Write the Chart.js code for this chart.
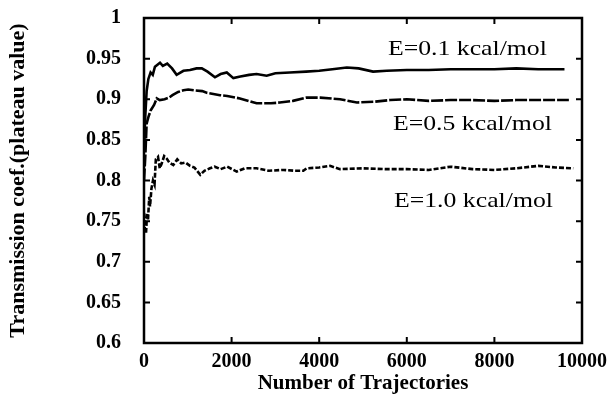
<!DOCTYPE html>
<html>
<head>
<meta charset="utf-8">
<script src="https://cdn.jsdelivr.net/npm/chart.js@4"></script>
<style>
    html, body { margin: 0; padding: 0; background: #fff; }
    #box { width: 611px; height: 396px; position: relative; }
</style>
</head>
<body>
<div id="box"><canvas id="lineChart"></canvas></div>
<script>
// number of trajectories (x) and plateau transmission coefficient (y) per curve
let trajE01 = [0, 30, 60, 100, 150, 200, 250, 365, 430, 530, 640, 745, 900, 1050, 1200, 1320, 1450, 1620, 1750, 1890, 2040, 2200, 2400, 2570, 2800, 3000, 3330, 3700, 4000, 4300, 4630, 4900, 5230, 5540, 6000, 6500, 7000, 7500, 8000, 8500, 9000, 9600];
let coefE01 = [0.84, 0.88, 0.91, 0.925, 0.933, 0.93, 0.94, 0.945, 0.941, 0.944, 0.938, 0.930, 0.935, 0.936, 0.938, 0.938, 0.934, 0.927, 0.931, 0.933, 0.926, 0.928, 0.930, 0.931, 0.929, 0.932, 0.933, 0.934, 0.935, 0.937, 0.939, 0.938, 0.934, 0.935, 0.936, 0.936, 0.937, 0.937, 0.937, 0.938, 0.937, 0.937];

let trajE05 = [0, 30, 60, 100, 150, 230, 290, 360, 470, 570, 650, 780, 900, 1010, 1150, 1330, 1430, 1735, 1900, 2190, 2570, 2900, 3100, 3400, 3710, 4020, 4475, 4860, 5260, 5620, 6000, 6500, 7000, 7500, 8000, 8500, 9000, 9700];
let coefE05 = [0.80, 0.83, 0.87, 0.878, 0.886, 0.893, 0.901, 0.899, 0.900, 0.902, 0.905, 0.909, 0.911, 0.912, 0.911, 0.910, 0.908, 0.905, 0.904, 0.901, 0.895, 0.895, 0.896, 0.898, 0.902, 0.902, 0.900, 0.896, 0.897, 0.899, 0.900, 0.898, 0.899, 0.899, 0.898, 0.899, 0.899, 0.899];

let trajE10 = [0, 20, 46, 70, 91, 120, 137, 170, 205, 240, 270, 320, 360, 404, 460, 518, 580, 669, 760, 850, 950, 1050, 1150, 1285, 1380, 1507, 1613, 1750, 1900, 2116, 2300, 2573, 2850, 3181, 3450, 3637, 3714, 4000, 4247, 4475, 5000, 5500, 6000, 6500, 7000, 7500, 8000, 8500, 9000, 9400, 9800];
let coefE10 = [0.76, 0.74, 0.735, 0.76, 0.751, 0.78, 0.768, 0.79, 0.80, 0.795, 0.826, 0.829, 0.815, 0.821, 0.83, 0.827, 0.822, 0.819, 0.826, 0.821, 0.822, 0.818, 0.816, 0.807, 0.812, 0.815, 0.817, 0.814, 0.817, 0.811, 0.815, 0.815, 0.812, 0.813, 0.812, 0.812, 0.815, 0.816, 0.818, 0.814, 0.815, 0.814, 0.814, 0.813, 0.817, 0.814, 0.813, 0.815, 0.818, 0.816, 0.815];

let curveLabels = ['E=0.1 kcal/mol', 'E=0.5 kcal/mol', 'E=1.0 kcal/mol'];
let xTicks = [0, 2000, 4000, 6000, 8000, 10000];
let yTicks = [0.6, 0.65, 0.7, 0.75, 0.8, 0.85, 0.9, 0.95, 1];

function toPoints(xs, ys) {
    return xs.map((x, i) => ({x: x, y: ys[i]}));
}

// frame with inward tick marks on all four sides, plus curve labels
const framePlugin = {
    id: 'frame',
    afterDatasetsDraw(chart) {
        const ctx = chart.ctx;
        const area = chart.chartArea;
        const xs = chart.scales.x;
        const ys = chart.scales.y;
        ctx.save();
        ctx.strokeStyle = '#000';
        ctx.lineWidth = 2.5;
        ctx.strokeRect(area.left, area.top, area.right - area.left, area.bottom - area.top);
        ctx.lineWidth = 2;
        ctx.beginPath();
        xTicks.forEach(v => {
            const px = xs.getPixelForValue(v);
            ctx.moveTo(px, area.bottom);
            ctx.lineTo(px, area.bottom - 6);
            ctx.moveTo(px, area.top);
            ctx.lineTo(px, area.top + 6);
        });
        yTicks.forEach(v => {
            const py = ys.getPixelForValue(v);
            ctx.moveTo(area.left, py);
            ctx.lineTo(area.left + 6, py);
            ctx.moveTo(area.right, py);
            ctx.lineTo(area.right - 6, py);
        });
        ctx.stroke();

        // curve labels, anchored in data coordinates
        const anchors = [[5570, 0.9545], [5685, 0.862], [5708, 0.767]];
        ctx.fillStyle = '#000';
        ctx.font = '22px "Liberation Serif", "Times New Roman", serif';
        ctx.textBaseline = 'alphabetic';
        curveLabels.forEach((txt, i) => {
            const px = xs.getPixelForValue(anchors[i][0]);
            const py = ys.getPixelForValue(anchors[i][1]);
            ctx.save();
            ctx.translate(px, py);
            ctx.scale(1.17, 1);
            ctx.fillText(txt, 0, 0);
            ctx.restore();
        });
        ctx.restore();
    }
};

const tickFont = {family: '"Liberation Serif", "Times New Roman", serif', size: 20, weight: 'bold'};
const titleFont = {family: '"Liberation Serif", "Times New Roman", serif', size: 21, weight: 'bold'};

new Chart(document.getElementById('lineChart'), {
    type: 'line',
    data: {
        datasets: [
            {
                label: curveLabels[0],
                data: toPoints(trajE01, coefE01),
                borderColor: '#000',
                borderWidth: 2.6,
                pointRadius: 0,
                tension: 0
            },
            {
                label: curveLabels[1],
                data: toPoints(trajE05, coefE05),
                borderColor: '#000',
                borderWidth: 2.6,
                borderDash: [12, 2],
                pointRadius: 0,
                tension: 0
            },
            {
                label: curveLabels[2],
                data: toPoints(trajE10, coefE10),
                borderColor: '#000',
                borderWidth: 2.6,
                borderDash: [5, 2],
                pointRadius: 0,
                tension: 0
            }
        ]
    },
    options: {
        responsive: true,
        maintainAspectRatio: false,
        animation: false,
        layout: {
            padding: {left: 0, top: 18, right: 29, bottom: 0}
        },
        plugins: {
            legend: {display: false},
            tooltip: {enabled: false}
        },
        scales: {
            x: {
                type: 'linear',
                min: 0,
                max: 10000,
                afterFit: scale => {
                    scale.height = 53;
                    scale.paddingLeft = 0;
                    scale.paddingRight = 0;
                },
                afterBuildTicks: scale => { scale.ticks = xTicks.map(v => ({value: v})); },
                grid: {display: false},
                border: {display: false},
                ticks: {
                    color: '#000',
                    font: tickFont,
                    padding: -1,
                    maxRotation: 0,
                    callback: v => String(v)
                },
                title: {
                    display: true,
                    text: 'Number of Trajectories',
                    color: '#000',
                    font: titleFont,
                    padding: {top: -3, bottom: 0}
                }
            },
            y: {
                type: 'linear',
                min: 0.6,
                max: 1,
                afterFit: scale => {
                    scale.width = 144;
                    scale.paddingTop = 0;
                    scale.paddingBottom = 0;
                },
                afterBuildTicks: scale => { scale.ticks = yTicks.map(v => ({value: v})); },
                grid: {display: false},
                border: {display: false},
                ticks: {
                    color: '#000',
                    font: tickFont,
                    padding: 15,
                    callback: v => String(v)
                },
                title: {
                    display: true,
                    text: 'Transmission coef.(plateau value)',
                    color: '#000',
                    font: {family: titleFont.family, size: 22, weight: 'bold'},
                    padding: {top: 5, bottom: 0}
                }
            }
        }
    },
    plugins: [framePlugin]
});
</script>
</body>
</html>
